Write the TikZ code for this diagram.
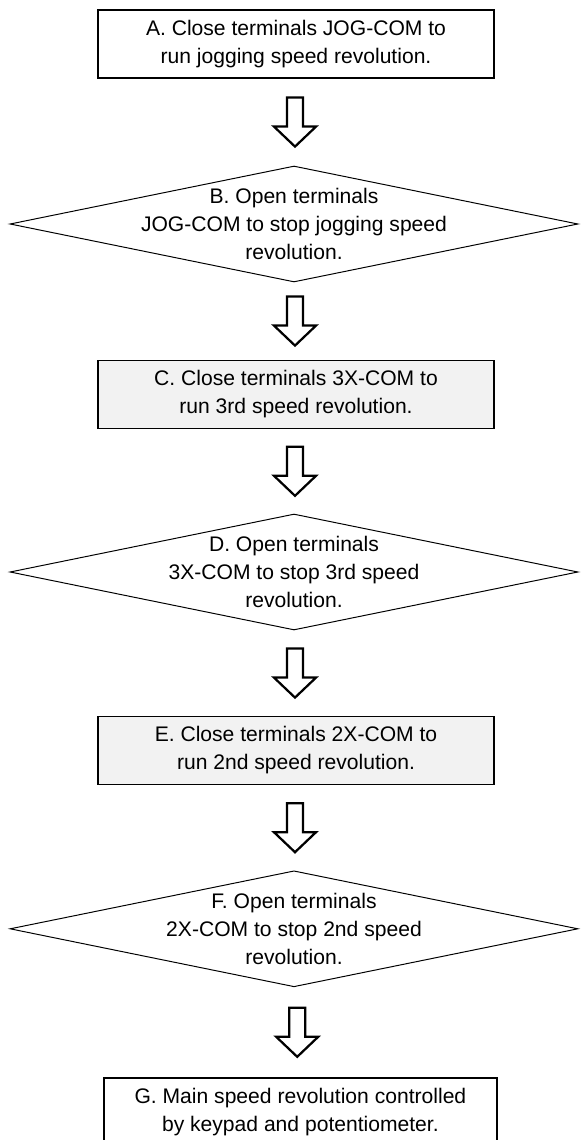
\documentclass[tikz,border=0pt]{standalone}
\usepackage{fontspec}
\setmainfont{Liberation Sans}
\usepackage{amsmath,amssymb}
\usetikzlibrary{shapes.geometric}

\begin{document}
\begin{tikzpicture}[
  box/.style={draw, line width=1pt, minimum width=9.9cm, minimum height=1.7cm, align=center,
              font=\fontsize{15}{20}\selectfont},
  shadebox/.style={box, fill=black!5},
  dia/.style={draw, line width=0.7pt, shape=diamond, inner sep=0pt, aspect=5,
              minimum width=14.2cm, minimum height=2.9cm},
  diatext/.style={align=center, font=\fontsize{15}{20}\selectfont},
  blk/.style={draw, line width=1.6pt, fill=white, line join=miter}]
\useasboundingbox (0,0) rectangle (14.525,-28.5);
\path
(7.4,-1.1) node[box] (A) {A. Close terminals JOG-COM to\\run jogging speed revolution.}
(7.35,-5.6) node[dia, label={[diatext]center:B. Open terminals\\JOG-COM to stop jogging speed\\revolution.}] (B) {}
(7.4,-9.86) node[shadebox] (C) {C. Close terminals 3X-COM to\\run 3rd speed revolution.}
(7.35,-14.3) node[dia, label={[diatext]center:D. Open terminals\\3X-COM to stop 3rd speed\\revolution.}] (D) {}
(7.4,-18.76) node[shadebox] (E) {E. Close terminals 2X-COM to\\run 2nd speed revolution.}
(7.35,-23.22) node[dia, label={[diatext]center:F. Open terminals\\2X-COM to stop 2nd speed\\revolution.}] (F) {}
(7.51,-27.8) node[box, minimum width=9.83cm] (G) {G. Main speed revolution controlled\\by keypad and potentiometer.};
% hollow block arrows between the steps
\foreach \u/\v in {A/B,B/C,C/D,D/E,E/F,F/G}{
  \path (\u.south) -- coordinate (m) (\v.north);
  \draw[blk] (m) ++(-0.2,0.6125) -- ++(0.4,0) -- ++(0,-0.725) -- ++(0.325,0)
             -- ++(-0.525,-0.5) -- ++(-0.525,0.5) -- ++(0.325,0) -- cycle;
}
\end{tikzpicture}
\end{document}
